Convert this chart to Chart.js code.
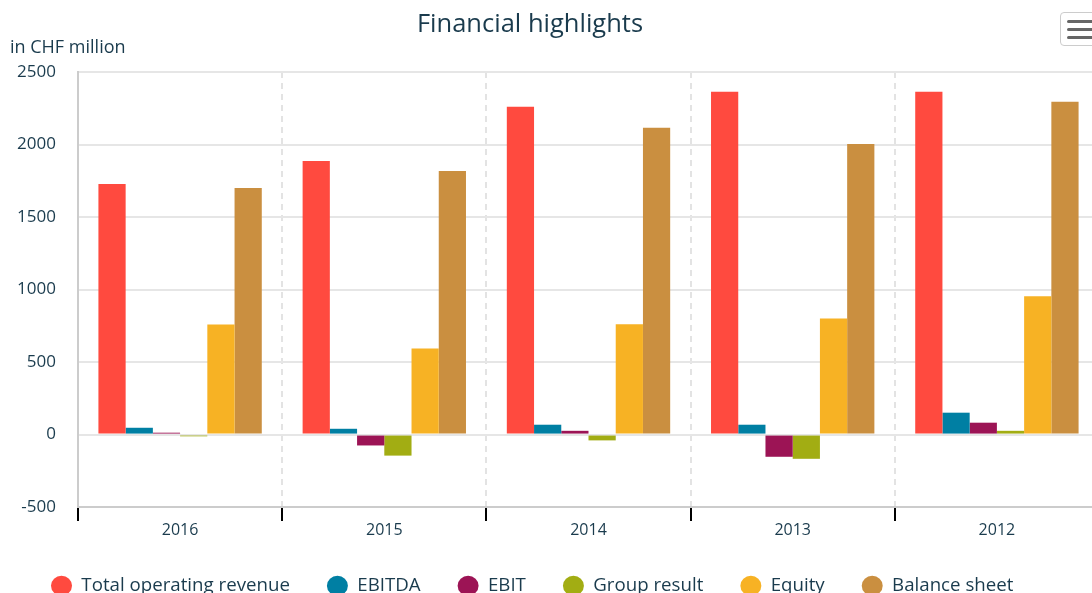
<!DOCTYPE html>
<html>
<head>
<meta charset="utf-8">
<title>Financial highlights</title>
<script src="https://cdn.jsdelivr.net/npm/chart.js@4.4.1/dist/chart.umd.min.js"></script>
<style>
  html, body { margin: 0; padding: 0; background: #fff; overflow: hidden; }
  #wrap { position: relative; width: 1092px; height: 593px; overflow: hidden; }
  #chart { position: absolute; left: 0; top: 0; }
  .menu-btn { position: absolute; left: 1060px; top: 12px; width: 44px; height: 34px; border: 1px solid #cccccc; border-radius: 4px; background: #fff; box-sizing: border-box; }
  .menu-btn span { position: absolute; left: 6px; width: 32px; height: 3px; background: #666; border-radius: 2px; }
</style>
</head>
<body>
<div id="wrap">
  <canvas id="chart" width="1100" height="605"></canvas>
  <div class="menu-btn"><span style="top:7px"></span><span style="top:15px"></span><span style="top:23px"></span></div>
</div>
<script>
// Values in CHF million
const years = ['2016', '2015', '2014', '2013', '2012'];
const seriesNames = ['Total operating revenue', 'EBITDA', 'EBIT', 'Group result', 'Equity', 'Balance sheet'];
const revenue = [1727, 1887, 2260, 2364, 2364];
const ebitda = [47, 40, 68, 68, 151];
const ebit = [13, -75, 26, -153, 82];
const groupResult = [-12, -145, -40, -167, 26];
const equity = [759, 593, 760, 801, 953];
const balanceSheet = [1700, 1817, 2115, 2003, 2295];
const yMin = -500;
const yMax = 2500;
const yStep = 500;

const chartTitle = 'Financial highlights';
const unitLabel = 'in CHF million';

const colors = ['#ff4a3f', '#007fa3', '#9c1455', '#a2ad13', '#f7b224', '#ca8f40'];
const textColor = '#1a3b4d';
const fontFamily = '"Open Sans", Lato, sans-serif';

const seriesValues = [revenue, ebitda, ebit, groupResult, equity, balanceSheet];

// title and unit label drawn at fixed spots, like the original
const headerText = {
    id: 'headerText',
    afterDraw(chart) {
        const ctx = chart.ctx;
        ctx.save();
        ctx.fillStyle = textColor;
        ctx.textBaseline = 'middle';
        ctx.font = '25.5px ' + fontFamily;
        ctx.textAlign = 'center';
        ctx.fillText(chartTitle, 530, 25);
        ctx.font = '18px ' + fontFamily;
        ctx.textAlign = 'left';
        ctx.fillText(unitLabel, 10, 48);
        ctx.restore();
    }
};

const ctx = document.getElementById('chart').getContext('2d');

new Chart(ctx, {
    type: 'bar',
    data: {
        labels: years,
        datasets: seriesNames.map((name, i) => ({
            label: name,
            data: seriesValues[i],
            backgroundColor: colors[i],
            borderWidth: 0,
            categoryPercentage: 0.8,
            barPercentage: 1.0
        }))
    },
    options: {
        responsive: false,
        animation: false,
        layout: {
            padding: { top: 72, left: 14, right: 1, bottom: 0 }
        },
        scales: {
            x: {
                grid: {
                    color: '#e3e3e3',
                    lineWidth: 2,
                    tickColor: '#000000',
                    tickWidth: 2,
                    tickLength: 14
                },
                border: {
                    color: '#cccccc',
                    width: 2,
                    dash: [6, 5]
                },
                ticks: {
                    color: textColor,
                    padding: -0.5,
                    font: { family: fontFamily, size: 16 }
                }
            },
            y: {
                min: yMin,
                max: yMax,
                afterFit(scale) {
                    scale.width = 64;
                },
                ticks: {
                    stepSize: yStep,
                    color: textColor,
                    padding: 22,
                    font: { family: fontFamily, size: 17 },
                    callback: (value) => String(value)
                },
                grid: {
                    color: '#e6e6e6',
                    lineWidth: 2,
                    drawTicks: false
                },
                border: {
                    color: '#cccccc',
                    width: 2
                }
            }
        },
        plugins: {
            title: { display: false },
            tooltip: { enabled: false },
            legend: {
                position: 'bottom',
                align: 'start',
                labels: {
                    usePointStyle: true,
                    pointStyle: 'circle',
                    pointStyleWidth: 21,
                    boxHeight: 14,
                    padding: 37,
                    color: textColor,
                    font: { family: fontFamily, size: 18.7 }
                }
            }
        }
    },
    plugins: [headerText]
});
</script>
</body>
</html>
